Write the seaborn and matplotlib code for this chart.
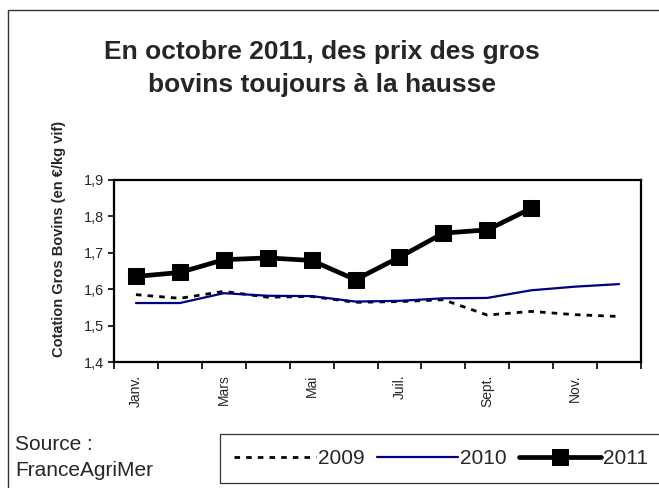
import numpy as np
import pandas as pd
import matplotlib.pyplot as plt
from matplotlib.patches import Rectangle
import seaborn as sns

# --- data (cotation gros bovins, EUR/kg vif) ---
months = ['Janv.', 'Févr.', 'Mars', 'Avr.', 'Mai', 'Juin',
          'Juil.', 'Août', 'Sept.', 'Oct.', 'Nov.', 'Déc.']
shown_months = ['Janv.', 'Mars', 'Mai', 'Juil.', 'Sept.', 'Nov.']
prix_2009 = [1.585, 1.575, 1.594, 1.578, 1.580, 1.564,
             1.566, 1.571, 1.529, 1.539, 1.530, 1.525]
prix_2010 = [1.562, 1.562, 1.589, 1.582, 1.581, 1.566,
             1.568, 1.575, 1.576, 1.597, 1.607, 1.614]
prix_2011 = [1.635, 1.646, 1.681, 1.686, 1.679, 1.626,
             1.688, 1.754, 1.763, 1.822]
y_ticks = [1.4, 1.5, 1.6, 1.7, 1.8, 1.9]

sns.set_style('white')
plt.rcParams['font.family'] = ['Liberation Sans', 'DejaVu Sans']

fig = plt.figure(figsize=(6.59, 4.88), dpi=100)
ax = fig.add_axes([114 / 659, 1 - 362 / 488, (641 - 114) / 659, (362 - 180) / 488])

pos = np.arange(len(months))
df09 = pd.DataFrame({'mois': pos, 'prix': prix_2009})
df10 = pd.DataFrame({'mois': pos, 'prix': prix_2010})
df11 = pd.DataFrame({'mois': pos[:len(prix_2011)], 'prix': prix_2011})

sns.lineplot(data=df09, x='mois', y='prix', ax=ax, color='black', lw=2.0,
             linestyle=(0, (2.0, 2.2)), label='2009')
sns.lineplot(data=df10, x='mois', y='prix', ax=ax, color='#000080', lw=1.6,
             label='2010')
sns.lineplot(data=df11, x='mois', y='prix', ax=ax, color='black', lw=3.4,
             marker='s', markersize=11, markeredgecolor='black', label='2011')

# axes cosmetics: category style x axis, ticks between months
ax.set_xlim(-0.5, 11.5)
ax.set_ylim(1.4, 1.9)
ax.set_xticks(np.arange(-0.5, 12, 1))
ax.set_xticklabels([])
ax.set_xticks([months.index(m) for m in shown_months], shown_months, minor=True)
ax.tick_params(axis='x', which='major', bottom=True, length=5, width=1.2,
               direction='out', color='black')
ax.tick_params(axis='x', which='minor', bottom=True, length=0, pad=9,
               labelsize=10, rotation=90)
ax.set_yticks(y_ticks, [f'{v:.1f}'.replace('.', ',') for v in y_ticks])
ax.tick_params(axis='y', left=True, length=4, width=1.2, direction='out',
               labelsize=10.4, pad=3, color='black')
ax.set_xlabel('')
ax.set_ylabel('')
for sp in ax.spines.values():
    sp.set_visible(True)
    sp.set_color('black')
    sp.set_linewidth(1.6)

# legend at the bottom in a square box
handles, labels = ax.get_legend_handles_labels()
ax.get_legend().remove()
leg = fig.legend(handles, labels, loc='center', bbox_to_anchor=(441 / 659, 1 - 458.5 / 488),
                 ncol=3, fontsize=15, handlelength=3.9, handletextpad=0.1,
                 columnspacing=0.6, fancybox=False, framealpha=1,
                 edgecolor='#333333', borderpad=0.7)
leg.get_frame().set_linewidth(0.9)

# titles and texts
fig.text(322 / 659, 1 - 59.3 / 488, 'En octobre 2011, des prix des gros',
         ha='center', va='baseline', fontsize=19, fontweight='bold')
fig.text(322 / 659, 1 - 91.7 / 488, 'bovins toujours à la hausse',
         ha='center', va='baseline', fontsize=19, fontweight='bold')
fig.text(59 / 659, 1 - 239 / 488, 'Cotation Gros Bovins (en €/kg vif)',
         rotation=90, ha='center', va='center', fontsize=10.5, fontweight='bold')
fig.text(15 / 659, 1 - 445 / 488, 'Source :', ha='left', va='center', fontsize=15)
fig.text(15 / 659, 1 - 471 / 488, 'FranceAgriMer', ha='left', va='center', fontsize=15)

# outer frame of the chart (cut off on the right and bottom edges)
fig.add_artist(Rectangle((8 / 659, -0.1), 1.2, 1 - 10 / 488 + 0.1,
                         transform=fig.transFigure, fill=False,
                         edgecolor='#333333', lw=1.0))

fig.savefig('out.png', dpi=100)
